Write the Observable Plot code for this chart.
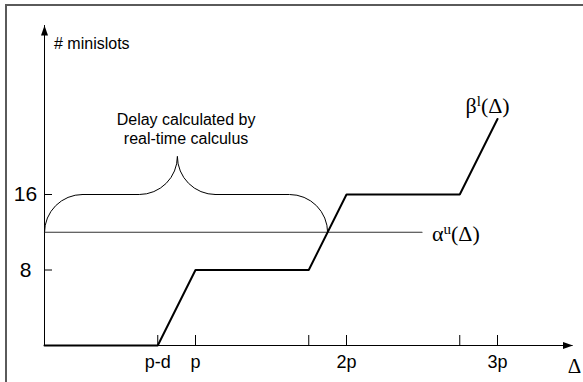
<!DOCTYPE html>
<html><head><meta charset="utf-8">
<script src="https://cdn.jsdelivr.net/npm/d3@7"></script>
<script src="https://cdn.jsdelivr.net/npm/@observablehq/plot@0.6"></script>
<style>
html,body{margin:0;padding:0;background:#fff;overflow:hidden;}
#chart{position:absolute;left:0;top:0;}
#frame{position:absolute;left:5px;top:4px;width:700px;height:500px;border-top:2px solid #5a5a5a;border-left:2px solid #5a5a5a;pointer-events:none;}
</style></head><body>
<div id="chart"></div><div id="frame"></div>
<script>
// ---- data ----
const betaX = [0, 0.75, 1, 1.75, 2, 2.75, 3];
const betaY = [0, 0, 8, 8, 16, 16, 24];
const alphaX = [0, 2.5];
const alphaY = [12, 12];
const xTicks = [0.75, 1, 1.75, 2, 2.75, 3];
const xTickLabels = ["p-d", "p", "", "2p", "", "3p"];
const yTicks = [8, 16];
const yTickLabels = ["8", "16"];
const xMax = 3.5;      // end of the Δ axis
const yMax = 33.9;     // top of the # minislots axis
const bracePeak = 0.88;
const braceRise = 4;
const braceCorner = 0.25;
const yAxisTitle = "# minislots";
const xAxisTitle = "Δ";
const braceText = "Delay calculated by\nreal-time calculus";
const curveLabels = [
  {base: "β", sup: "l", arg: "(Δ)"},
  {base: "α", sup: "u", arg: "(Δ)"}
];

// ---- derived ----
const beta = betaX.map((x, i) => ({x, y: betaY[i]}));
const alpha = alphaX.map((x, i) => ({x, y: alphaY[i]}));
const aLevel = alphaY[0];
let delay = 0;
for (let i = 0; i < beta.length - 1; i++) {
  const p = beta[i], q = beta[i + 1];
  if (q.y > p.y && p.y <= aLevel && q.y >= aLevel) { delay = p.x + (aLevel - p.y) / (q.y - p.y) * (q.x - p.x); break; }
}
const top16 = aLevel + braceRise;
const peakY = top16 + braceRise;
const arcsCW = [
  {x1: 0, y1: aLevel, x2: braceCorner, y2: top16},
  {x1: delay - braceCorner, y1: top16, x2: delay, y2: aLevel}
];
const arcsCCW = [
  {x1: bracePeak - braceCorner, y1: top16, x2: bracePeak, y2: peakY},
  {x1: bracePeak, y1: peakY, x2: bracePeak + braceCorner, y2: top16}
];
const braceFlat = [
  {x1: braceCorner, x2: bracePeak - braceCorner, y: top16},
  {x1: bracePeak + braceCorner, x2: delay - braceCorner, y: top16}
];
const xt = xTicks.map((x, i) => ({x, label: xTickLabels[i]}));
const yt = yTicks.map((y, i) => ({y, label: yTickLabels[i]}));
const arrowHead = {draw(ctx) { ctx.moveTo(0, 0); ctx.lineTo(3.5, 10); ctx.lineTo(-3.5, 10); ctx.closePath(); }};
const full = l => l.base + l.sup + l.arg;

const serif = "Liberation Serif, Times New Roman, serif";
const sans = "Liberation Sans, Arial, sans-serif";

const chart = Plot.plot({
  width: 583, height: 382,
  marginTop: 0, marginRight: 0, marginBottom: 0, marginLeft: 0,
  x: {domain: [0, xMax], range: [44, 572.5], axis: null},
  y: {domain: [0, 16], range: [345, 194], axis: null},
  style: {fontFamily: sans, background: "white", overflow: "visible"},
  marks: [
    // axes
    Plot.ruleX([0], {y1: 0, y2: yMax, stroke: "black", strokeWidth: 1}),
    Plot.ruleY([0], {x1: 0, x2: xMax, stroke: "black", strokeWidth: 1}),
    Plot.dot([0], {x: 0, y: yMax, symbol: arrowHead, fill: "black"}),
    Plot.dot([0], {x: xMax, y: 0, symbol: arrowHead, rotate: 90, fill: "black"}),
    Plot.ruleX(xt, {x: "x", y1: 0, y2: 0, insetTop: -10, stroke: "black", strokeWidth: 1}),
    Plot.ruleY(yt, {y: "y", x1: 0, x2: 0, insetRight: -8, stroke: "black", strokeWidth: 1}),
    Plot.text(xt, {x: "x", y: 0, text: "label", dy: 17, fontSize: 18, fontFamily: sans, fill: "black"}),
    Plot.text(yt, {x: 0, y: "y", text: "label", dx: -19, fontSize: 21, fontFamily: sans, fill: "black"}),
    Plot.text([yAxisTitle], {x: 0, y: yMax, text: d => d, dx: 9.5, dy: 18, textAnchor: "start", fontSize: 16, fontFamily: sans, fill: "black"}),
    Plot.text([xAxisTitle], {x: xMax, y: 0, text: d => d, dx: 1.5, dy: 21, fontSize: 21, fontFamily: serif, fill: "black"}),
    // alpha
    Plot.line(alpha, {x: "x", y: "y", stroke: "#333", strokeWidth: 1.2}),
    // brace
    Plot.ruleY(braceFlat, {x1: "x1", x2: "x2", y: "y", stroke: "black", strokeWidth: 1}),
    Plot.arrow(arcsCW, {x1: "x1", y1: "y1", x2: "x2", y2: "y2", bend: 45, headLength: 0, stroke: "black", strokeWidth: 1}),
    Plot.arrow(arcsCCW, {x1: "x1", y1: "y1", x2: "x2", y2: "y2", bend: -45, headLength: 0, stroke: "black", strokeWidth: 1}),
    Plot.text([braceText], {x: delay / 2, y: peakY, text: d => d, dy: -28, lineHeight: 1.15, fontSize: 16, fontFamily: sans, fill: "black"}),
    // beta
    Plot.line(beta, {x: "x", y: "y", stroke: "black", strokeWidth: 2, strokeLinejoin: "miter"}),
    // curve labels
    Plot.text([full(curveLabels[0])], {x: betaX[betaX.length - 1], y: betaY[betaY.length - 1], text: d => d, dx: -32, dy: -13, textAnchor: "start", fontSize: 22, fontFamily: serif, fill: "black"}),
    Plot.text([full(curveLabels[1])], {x: alphaX[alphaX.length - 1], y: alphaY[alphaY.length - 1], text: d => d, dx: 10, dy: 1.3, textAnchor: "start", fontSize: 22, fontFamily: serif, fill: "black"})
  ]
});

// superscripts
const NS = "http://www.w3.org/2000/svg";
for (const t of chart.querySelectorAll("text")) {
  for (const l of curveLabels) {
    if (t.textContent === full(l)) {
      t.textContent = "";
      const a = document.createElementNS(NS, "tspan"); a.textContent = l.base;
      const b = document.createElementNS(NS, "tspan"); b.textContent = l.sup; b.setAttribute("dy", "-7"); b.setAttribute("font-size", "15");
      const c = document.createElementNS(NS, "tspan"); c.textContent = l.arg; c.setAttribute("dy", "7");
      t.append(a, b, c);
    }
  }
}
document.getElementById("chart").append(chart);
</script>
</body></html>
